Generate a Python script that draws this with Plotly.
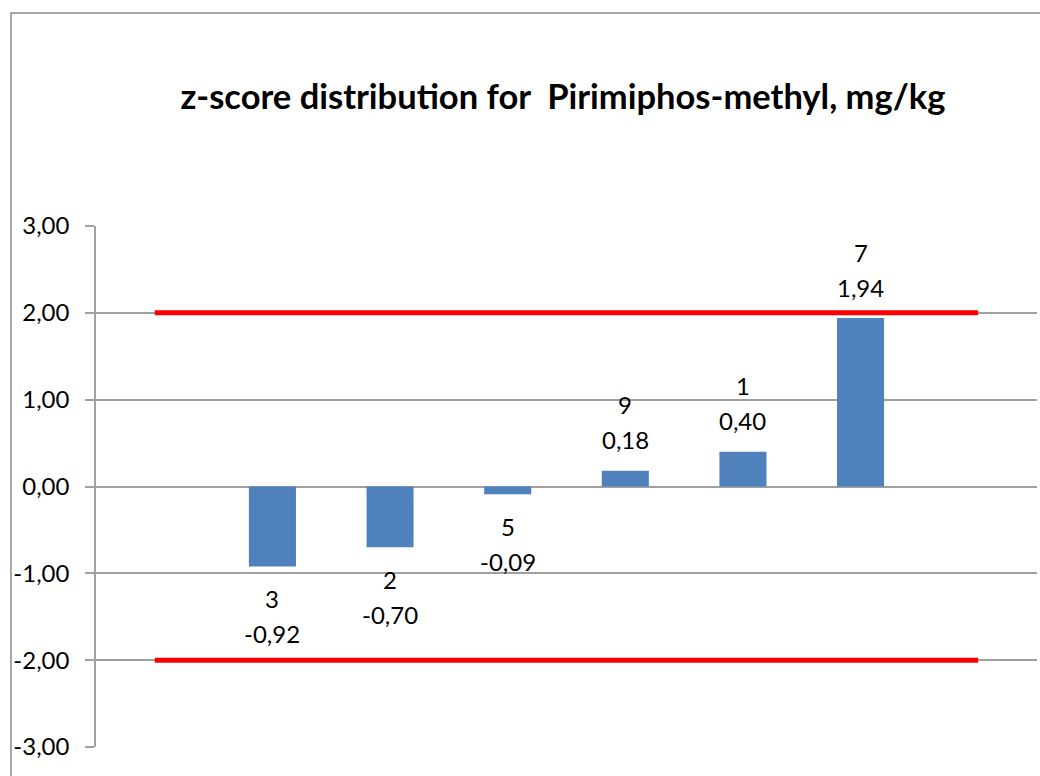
import plotly.graph_objects as go

# Data
slots = [0, 1, 2, 3, 4, 5, 6, 7]
bar_slots = [1, 2, 3, 4, 5, 6]
lab_ids = ["3", "2", "5", "9", "1", "7"]
z_scores = [-0.92, -0.70, -0.09, 0.18, 0.40, 1.94]
upper_limit = [2, 2, 2, 2, 2, 2, 2, 2]
lower_limit = [-2, -2, -2, -2, -2, -2, -2, -2]
y_ticks = [-3, -2, -1, 0, 1, 2, 3]
y_tick_text = ["-3,00", "-2,00", "-1,00", "0,00", "1,00", "2,00", "3,00"]
title_text = "z-score distribution for  Pirimiphos-methyl, mg/kg"

FONT = "Lato"
W, H = 1040, 776
L, T, R, B = 96, 226, 3, 29
PW, PH = W - L - R, H - T - B

fig = go.Figure()
fig.add_trace(go.Bar(x=bar_slots, y=z_scores, width=0.4,
                     marker=dict(color="#4F81BD", line=dict(width=0)),
                     showlegend=False, hoverinfo="skip"))
for ys in (upper_limit, lower_limit):
    fig.add_trace(go.Scatter(x=slots, y=ys, mode="lines",
                             line=dict(color="#FF0000", width=5),
                             showlegend=False, hoverinfo="skip"))

annotations = []
for xs, lid, v in zip(bar_slots, lab_ids, z_scores):
    val = f"{v:.2f}".replace(".", ",")
    if v >= 0:
        pairs = ((lid, 66), (val, 31))
    else:
        pairs = ((lid, -32), (val, -67))
    for txt, sh in pairs:
        annotations.append(dict(x=xs, y=v, xref="x", yref="y", text=txt,
                                showarrow=False, yanchor="middle", yshift=sh,
                                font=dict(family=FONT, size=24, color="#000000")))

fig.update_layout(
    width=W, height=H,
    margin=dict(l=L, r=R, t=T, b=B),
    paper_bgcolor="white", plot_bgcolor="white",
    title=dict(text=f"<b>{title_text}</b>", x=(563 - L) / PW, xref="paper",
               y=1 - 97 / H, yref="container", xanchor="center", yanchor="middle",
               font=dict(family=FONT, size=34.5, color="#000000")),
    xaxis=dict(range=[-0.5, 7.5], showticklabels=False, showgrid=False,
               zeroline=False, showline=False, ticks=""),
    yaxis=dict(range=[-3, 3], tickvals=y_ticks, ticktext=y_tick_text,
               showgrid=True, gridcolor="#A0A0A0", gridwidth=1.5,
               zeroline=True, zerolinecolor="#A0A0A0", zerolinewidth=1.5,
               showline=True, linecolor="#A0A0A0", linewidth=1.5,
               ticks="outside", ticklen=9, tickcolor="#A0A0A0", tickwidth=1.5,
               ticklabelstandoff=11,
               tickfont=dict(family=FONT, size=24, color="#000000")),
    annotations=annotations,
    shapes=[dict(type="rect", xref="paper", yref="paper",
                 x0=(11 - L) / PW, x1=1.2, y0=-0.3, y1=1 + (T - 13) / PH,
                 line=dict(color="#8C8C8C", width=1.5), fillcolor="rgba(0,0,0,0)",
                 layer="below")],
)
fig.write_html(
    "out.html",
    config={"displayModeBar": False},
    post_script="document.body.style.margin='0';document.body.style.overflow='hidden';",
)
